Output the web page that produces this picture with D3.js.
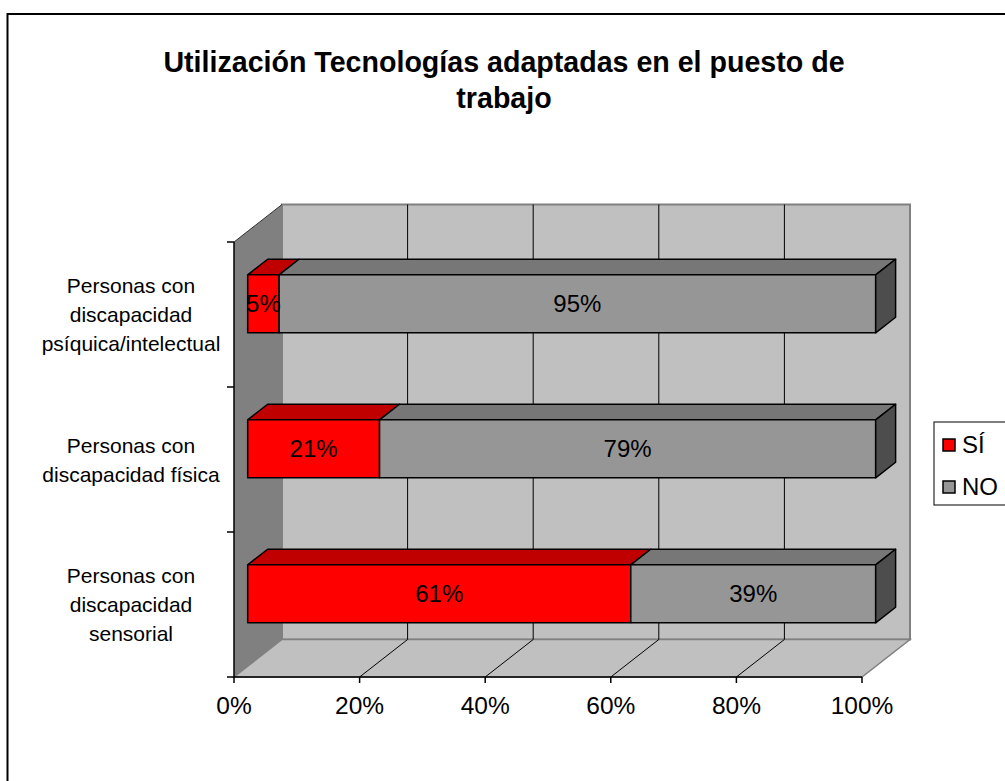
<!DOCTYPE html>
<html>
<head>
<meta charset="utf-8">
<script src="https://d3js.org/d3.v7.min.js"></script>
<style>
    body { margin: 0; background: #ffffff; }
    svg { display: block; font-family: "Liberation Sans", Arial, sans-serif; }
</style>
</head>
<body>
<script>
// data (top row first)
var categories = ["psiquica", "fisica", "sensorial"];
var categoryLabels = [
    ["Personas con", "discapacidad", "psíquica/intelectual"],
    ["Personas con", "discapacidad física"],
    ["Personas con", "discapacidad", "sensorial"]
];
var siValues = [5, 21, 61];
var noValues = [95, 79, 39];
var seriesNames = ["SÍ", "NO"];
var xTicks = [0, 20, 40, 60, 80, 100];
var titleLines = ["Utilización Tecnologías adaptadas en el puesto de", "trabajo"];

var width = 1005, height = 781;
var colors = { front: ["#ff0000", "#969696"], top: ["#c00000", "#777777"], side: "#4d4d4d" };

var svg = d3.select("body").append("svg")
    .attr("width", width)
    .attr("height", height);

// outer chart frame (runs off the right and bottom of the picture)
svg.append("rect")
    .attr("x", 7.5).attr("y", 14)
    .attr("width", 1100).attr("height", 900)
    .style("fill", "none")
    .style("stroke", "black")
    .style("stroke-width", 2);

svg.selectAll(".title-line")
    .data(titleLines)
    .enter()
    .append("text")
    .attr("class", "title-line")
    .attr("x", 504)
    .attr("y", function(d, i) { return 72 + i * 36; })
    .attr("text-anchor", "middle")
    .style("font-size", "28.6px")
    .style("font-weight", "bold")
    .text(function(d) { return d; });

// front plane scales, depth goes back and up
var x = d3.scaleLinear().domain([0, 100]).range([234, 862]);
var y = d3.scaleBand().domain(categories).range([242, 677]).paddingInner(0.6).paddingOuter(0.3);
var depth = { dx: 48, dy: -37.5 };
var barZ = [0.285, 0.70];

function proj(px, py, z) {
    return [px + z * depth.dx, py + z * depth.dy];
}
function poly(pts) {
    return "M" + pts.map(function(p) { return p[0] + "," + p[1]; }).join("L") + "Z";
}

var yTop = y.range()[0], yBot = y.range()[1];
var x0 = x(0), x1 = x(100);

// walls
svg.append("path")
    .attr("d", poly([proj(x0, yTop, 1), proj(x1, yTop, 1), proj(x1, yBot, 1), proj(x0, yBot, 1)]))
    .style("fill", "#c0c0c0")
    .style("stroke", "#808080")
    .style("stroke-width", 2);

svg.append("path")
    .attr("d", poly([proj(x0, yTop, 0), proj(x0, yTop, 1), proj(x0, yBot, 1), proj(x0, yBot, 0)]))
    .style("fill", "#808080")
    .style("stroke", "none");

svg.append("path")
    .attr("d", poly([proj(x0, yBot, 0), proj(x1, yBot, 0), proj(x1, yBot, 1), proj(x0, yBot, 1)]))
    .style("fill", "#c0c0c0")
    .style("stroke", "#808080")
    .style("stroke-width", 1.5);

// gridlines on back wall and on the floor
var inner = xTicks.slice(1, -1);
svg.selectAll(".grid-back")
    .data(inner)
    .enter()
    .append("line")
    .attr("class", "grid-back")
    .attr("x1", function(d) { return proj(x(d), yTop, 1)[0]; })
    .attr("x2", function(d) { return proj(x(d), yBot, 1)[0]; })
    .attr("y1", proj(0, yTop, 1)[1])
    .attr("y2", proj(0, yBot, 1)[1])
    .style("stroke", "black")
    .style("stroke-width", 1);

svg.selectAll(".grid-floor")
    .data(inner)
    .enter()
    .append("line")
    .attr("class", "grid-floor")
    .attr("x1", function(d) { return x(d); })
    .attr("y1", yBot)
    .attr("x2", function(d) { return proj(x(d), yBot, 1)[0]; })
    .attr("y2", proj(0, yBot, 1)[1])
    .style("stroke", "black")
    .style("stroke-width", 1);

// left wall top edge
svg.append("line")
    .attr("x1", x0).attr("y1", yTop)
    .attr("x2", proj(x0, yTop, 1)[0]).attr("y2", proj(x0, yTop, 1)[1])
    .style("stroke", "#333333")
    .style("stroke-width", 1);

// axes
svg.append("line")
    .attr("x1", x0).attr("x2", x0)
    .attr("y1", yTop).attr("y2", yBot)
    .style("stroke", "black").style("stroke-width", 1.5);

svg.append("line")
    .attr("x1", x0).attr("x2", x1)
    .attr("y1", yBot).attr("y2", yBot)
    .style("stroke", "black").style("stroke-width", 1.5);

var yTickPos = [yTop].concat(categories.map(function(c) { return y(c) - y.step() * y.paddingInner() / 2 + y.step(); }));
svg.selectAll(".y-tick")
    .data(yTickPos)
    .enter()
    .append("line")
    .attr("class", "y-tick")
    .attr("x1", x0 - 7).attr("x2", x0)
    .attr("y1", function(d) { return d; })
    .attr("y2", function(d) { return d; })
    .style("stroke", "black").style("stroke-width", 1.5);

svg.selectAll(".x-tick")
    .data(xTicks)
    .enter()
    .append("line")
    .attr("class", "x-tick")
    .attr("x1", function(d) { return x(d); })
    .attr("x2", function(d) { return x(d); })
    .attr("y1", yBot).attr("y2", yBot + 6)
    .style("stroke", "black").style("stroke-width", 1.5);

svg.selectAll(".x-label")
    .data(xTicks)
    .enter()
    .append("text")
    .attr("class", "x-label")
    .attr("x", function(d) { return x(d); })
    .attr("y", 714)
    .attr("text-anchor", "middle")
    .style("font-size", "24.5px")
    .text(function(d) { return d + "%"; });

// category labels
categories.forEach(function(c, i) {
    var lines = categoryLabels[i];
    var cy = y(c) + y.bandwidth() / 2;
    svg.selectAll(".cat-" + i)
        .data(lines)
        .enter()
        .append("text")
        .attr("class", "cat-" + i)
        .attr("x", 131)
        .attr("y", function(d, j) { return cy + (j - (lines.length - 1) / 2) * 29 + 7.5; })
        .attr("text-anchor", "middle")
        .style("font-size", "21px")
        .text(function(d) { return d; });
});

// stacked 3d bars
var rows = categories.map(function(c, i) {
    return { cat: c, segs: [[0, siValues[i]], [siValues[i], siValues[i] + noValues[i]]] };
});

rows.forEach(function(r) {
    var by0 = y(r.cat), by1 = y(r.cat) + y.bandwidth();
    var g = svg.append("g").attr("class", "bar-g");
    r.segs.forEach(function(s, k) {
        var a = x(s[0]), b = x(s[1]);
        // top face
        g.append("path")
            .attr("d", poly([proj(a, by0, barZ[0]), proj(b, by0, barZ[0]), proj(b, by0, barZ[1]), proj(a, by0, barZ[1])]))
            .style("fill", colors.top[k])
            .style("stroke", "black").style("stroke-width", 1.5).style("stroke-linejoin", "round");
        // front face
        g.append("path")
            .attr("d", poly([proj(a, by0, barZ[0]), proj(b, by0, barZ[0]), proj(b, by1, barZ[0]), proj(a, by1, barZ[0])]))
            .style("fill", colors.front[k])
            .style("stroke", "black").style("stroke-width", 1.5).style("stroke-linejoin", "round");
        if (k == r.segs.length - 1) {
            g.append("path")
                .attr("d", poly([proj(b, by0, barZ[0]), proj(b, by0, barZ[1]), proj(b, by1, barZ[1]), proj(b, by1, barZ[0])]))
                .style("fill", colors.side)
                .style("stroke", "black").style("stroke-width", 1.5).style("stroke-linejoin", "round");
        }
    });
    r.segs.forEach(function(s) {
        var c = proj((x(s[0]) + x(s[1])) / 2, (by0 + by1) / 2, barZ[0]);
        g.append("text")
            .attr("x", c[0])
            .attr("y", c[1] + 8.5)
            .attr("text-anchor", "middle")
            .style("font-size", "24px")
            .text((s[1] - s[0]) + "%");
    });
});

// legend
var legend = svg.append("g").attr("class", "legend");
legend.append("rect")
    .attr("x", 934).attr("y", 422)
    .attr("width", 120).attr("height", 83)
    .style("fill", "white")
    .style("stroke", "black")
    .style("stroke-width", 1);

seriesNames.forEach(function(n, i) {
    legend.append("rect")
        .attr("x", 943).attr("y", 439 + i * 42)
        .attr("width", 12).attr("height", 12)
        .style("fill", colors.front[i])
        .style("stroke", "black")
        .style("stroke-width", 1.5);
    legend.append("text")
        .attr("x", 962).attr("y", 453 + i * 42)
        .style("font-size", "24px")
        .text(n);
});
</script>
</body>
</html>
